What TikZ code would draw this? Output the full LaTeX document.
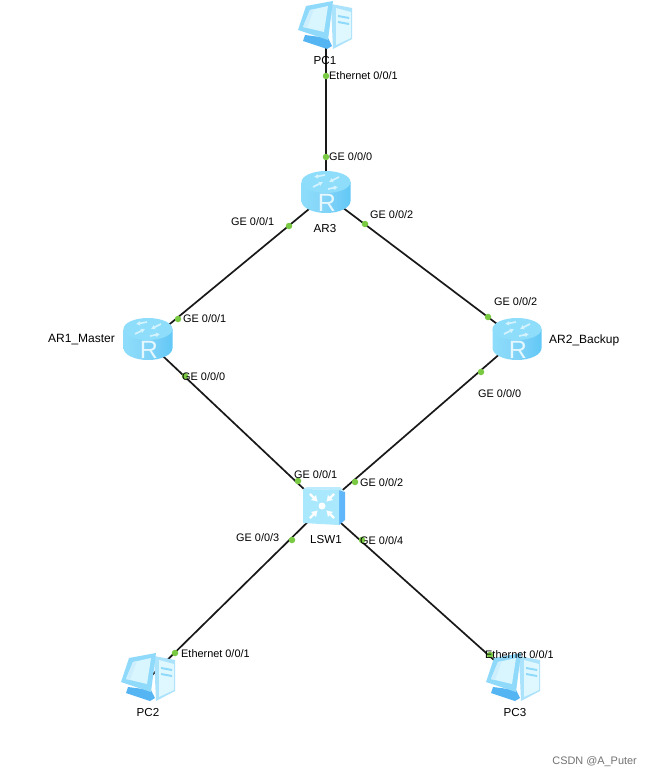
\documentclass[tikz,border=0pt]{standalone}
\usepackage{fontspec}
\setmainfont{Liberation Sans}
\usetikzlibrary{arrows.meta}
\definecolor{rtop}{HTML}{8EDDFB}
\definecolor{rside}{HTML}{62C8F6}
\definecolor{rlight}{HTML}{E6F8FF}
\definecolor{swf}{HTML}{A9E8FD}
\definecolor{sws}{HTML}{5FB6F8}
\definecolor{pcb}{HTML}{8FD9FB}
\definecolor{pcl}{HTML}{D9F6FF}
\definecolor{pcd}{HTML}{55B4F2}
\definecolor{dotg}{HTML}{7AC943}
\tikzset{
 x=1pt,y=-1pt,
 lnk/.style={line width=1.7pt,draw=black!90},
 port/.style={circle,fill=dotg,draw=none,inner sep=0pt,minimum size=6.5pt},
 lab/.style={font=\fontsize{10.9}{12}\selectfont,inner sep=0pt,text=black},
 wlab/.style={font=\fontsize{11.6}{12}\selectfont,inner sep=0pt,text=black},
 nlab/.style={font=\fontsize{12}{12}\selectfont,inner sep=0pt,text=black},
 anchorpt/.style={inner sep=0pt,minimum size=0pt},
 rarrow/.style={rlight!80!rtop,line width=1.7pt,-{Latex[length=4pt,width=5pt]}},
 router/.pic={
  \shade[left color=rtop,right color=rside,middle color=rside!80!white]
    (-24.5,-10) -- (-24.5,9) arc[start angle=180,end angle=0,x radius=24.5,y radius=12] -- (24.5,-10) -- cycle;
  \fill[rtop] (0,-10) ellipse[x radius=24.5,y radius=11];
  \draw[rarrow] (-13,-5) -- (-3,-10);
  \draw[rarrow] (13,-15) -- (3,-10);
  \draw[rarrow] (-1,-17) -- (-12,-15);
  \draw[rarrow] (2,-3) -- (12,-5);
  \node[font=\fontsize{25}{25}\selectfont,text=rlight,inner sep=0pt] at (1,11) {R};
 },
 switchicon/.pic={
  \fill[sws] (16,-17) -- (22,-15) -- (22,13) -- (16,18) -- cycle;
  \fill[rtop!60!white] (-20,-18) -- (-16,-20) -- (17,-20) -- (22,-15) -- (16,-17) -- cycle;
  \fill[swf] (-20,-18) -- (16,-17) -- (16,18) -- (-20,16) -- cycle;
  \fill[white] (-1,-1) circle[radius=3.5];
  \foreach \a in {45,135,225,315}{
   \draw[white,line width=2.4pt,-{Latex[length=6pt,width=8pt]}] ([shift={(-1,-1)}]\a:17) -- ([shift={(-1,-1)}]\a:6);
  }
 },
 pcicon/.pic={
  \fill[pcb!75!white] (6,-21) -- (27,-17) -- (27,14) -- (8,24) -- cycle;
  \fill[pcl!85!white] (11,-17) -- (26,-13) -- (26,13) -- (11,20) -- cycle;
  \fill[pcb] (13,-10) -- (24,-8) -- (24,-6) -- (13,-8) -- cycle;
  \fill[pcb] (13,-4) -- (24,-2) -- (24,0) -- (13,-2) -- cycle;
  \fill[pcd] (-20,10) -- (3,13) -- (7,21) -- (2,24) -- (-22,16) -- cycle;
  \fill[pcb] (-27,5) -- (-19,-19) -- (8,-24) -- (3,15) -- cycle;
  \fill[pcl] (-22,2) -- (-15,-15) -- (3,-19) -- (-1,7) -- cycle;
  \fill[pcb!45!white] (-22,2) -- (-15,-15) -- (-11,-16) -- (-18,3) -- cycle;
 }
}
\begin{document}
\begin{tikzpicture}
\useasboundingbox (0,0) rectangle (653,776);
\fill[white] (0,0) rectangle (653,776);
\node[anchorpt] (pc1) at (326,30) {};
\node[anchorpt] (ar3) at (326,192) {};
\node[anchorpt] (ar1) at (148,342) {};
\node[anchorpt] (ar2) at (517,339) {};
\node[anchorpt] (lsw) at (323,507) {};
\node[anchorpt] (pc2) at (150,677) {};
\node[anchorpt] (pc3) at (513,677) {};
\coordinate (ar3l) at (326,195);
\coordinate (ar3r) at (326,195);
\draw[lnk] (pc1) -- (ar3);
\draw[lnk] (ar3l) -- (ar1);
\draw[lnk] (ar3r) -- (ar2);
\draw[lnk] (ar1) -- (lsw);
\draw[lnk] (ar2) -- (lsw);
\draw[lnk] (lsw) -- (pc2);
\draw[lnk] (lsw) -- (pc3);
\pic at (326,192) {router};
\pic at (148,339) {router};
\pic at (517,339) {router};
\pic at (323,507) {switchicon};
\pic at (325,25) {pcicon};
\pic at (148,677) {pcicon};
\pic at (513,677) {pcicon};
\foreach \n/\x/\y in {d1/326/76,d2/326/157,d3/289/226,d4/365/224,d5/178/319,d6/488/317,d7/185/376,d8/481/372,d9/298/481,d10/355/482,d11/292/540,d12/362/540,d13/175/653,d14/490/655}{
 \node[port] (\n) at (\x,\y) {};
}
\node[wlab] (t1) at (325,60.5) {PC1};
\node[lab,anchor=west] (l1) at (329,76) {Ethernet 0/0/1};
\node[lab,anchor=west] (l2) at (329,157) {GE 0/0/0};
\node[wlab] (t2) at (325,229) {AR3};
\node[lab,anchor=west] (l3) at (231,222) {GE 0/0/1};
\node[lab,anchor=west] (l4) at (370,215) {GE 0/0/2};
\node[lab,anchor=west] (l5) at (183,319) {GE 0/0/1};
\node[lab,anchor=west] (l6) at (494,302) {GE 0/0/2};
\node[nlab,anchor=west] (t3) at (48,340) {AR1\_Master};
\node[nlab,anchor=west] (t4) at (549,340) {AR2\_Backup};
\node[lab,anchor=west] (l7) at (182,377) {GE 0/0/0};
\node[lab,anchor=west] (l8) at (478,394) {GE 0/0/0};
\node[lab,anchor=west] (l9) at (294,475) {GE 0/0/1};
\node[lab,anchor=west] (l10) at (360,483) {GE 0/0/2};
\node[lab,anchor=west] (l11) at (236,538) {GE 0/0/3};
\node[lab,anchor=west] (l12) at (360,541) {GE 0/0/4};
\node[wlab] (t5) at (326,540) {LSW1};
\node[lab,anchor=west] (l13) at (181,654) {Ethernet 0/0/1};
\node[lab,anchor=west] (l14) at (485,655) {Ethernet 0/0/1};
\node[wlab] (t6) at (148,712) {PC2};
\node[wlab] (t7) at (515,712) {PC3};
\node[lab,anchor=east,text=black!55] (wm) at (637,762) {CSDN @A\_Puter};
\end{tikzpicture}
\end{document}
